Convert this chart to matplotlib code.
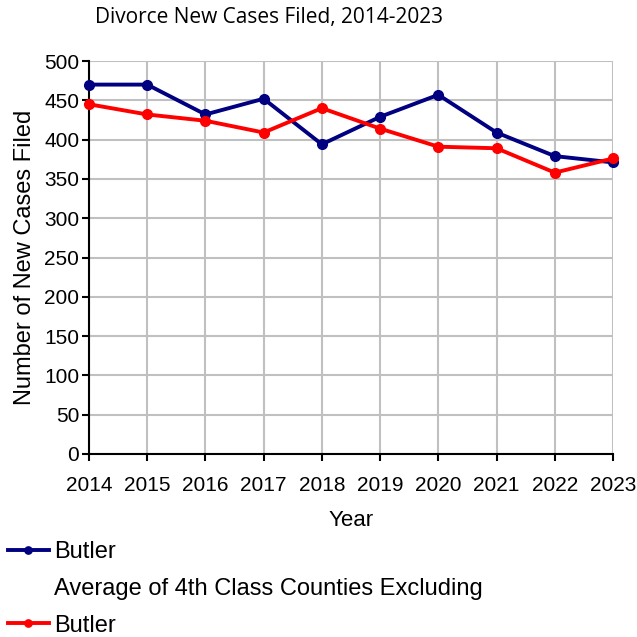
### Divorce new cases filed, Butler vs average of 4th class counties

import matplotlib
matplotlib.use('Agg')
import matplotlib.pyplot as plt
from matplotlib.lines import Line2D

### Data
years = [2014, 2015, 2016, 2017, 2018, 2019, 2020, 2021, 2022, 2023]
butler = [470, 470, 432, 452, 394, 429, 457, 409, 379, 371]
avg_4th_class = [445, 432, 424, 409, 440, 414, 391, 389, 358, 376]
y_ticks = [0, 50, 100, 150, 200, 250, 300, 350, 400, 450, 500]

plt.rcParams['font.family'] = ['Liberation Sans', 'DejaVu Sans']

fig = plt.figure(figsize=(6.37, 6.37), dpi=100)
ax = fig.add_axes([0.1397, 0.2873, 0.8226, 0.6169])

line_b, = ax.plot(years, butler, color='#000080', linewidth=2.8, marker='o',
                  markersize=7, clip_on=False, zorder=3)
line_a, = ax.plot(years, avg_4th_class, color='#ff0000', linewidth=2.8, marker='o',
                  markersize=7, clip_on=False, zorder=4)

ax.set_xlim(years[0], years[-1])
ax.set_ylim(0, 500)
ax.set_xticks(years)
ax.set_yticks(y_ticks)
ax.tick_params(axis='both', labelsize=15, width=1.5, length=5, direction='out')
ax.tick_params(axis='x', pad=11)
ax.tick_params(axis='y', pad=2)

ax.grid(True, color='#c0c0c0', linewidth=1.5)
ax.set_axisbelow(True)
for side in ['top', 'right']:
    ax.spines[side].set_visible(False)
for side in ['left', 'bottom']:
    ax.spines[side].set_linewidth(1.5)

ax.set_xlabel('Year', fontsize=16, labelpad=11)
ax.set_ylabel('Number of New Cases Filed', fontsize=17, labelpad=6)

fig.text(0.422, 0.972, 'Divorce New Cases Filed, 2014-2023', fontsize=15,
         family='Open Sans', ha='center', va='center')

### legend: the long label wraps, its marker sits on the last line
blank = Line2D([], [], color='none')
fig.legend([line_b, blank, line_a],
           ['Butler', 'Average of 4th Class Counties Excluding', 'Butler'],
           loc='upper left', bbox_to_anchor=(0.012, 0.150), frameon=False,
           fontsize=17, handlelength=1.75, handletextpad=0.2, borderpad=0,
           labelspacing=0.62, borderaxespad=0, markerscale=0.75)

plt.savefig('out.png', dpi=100)
